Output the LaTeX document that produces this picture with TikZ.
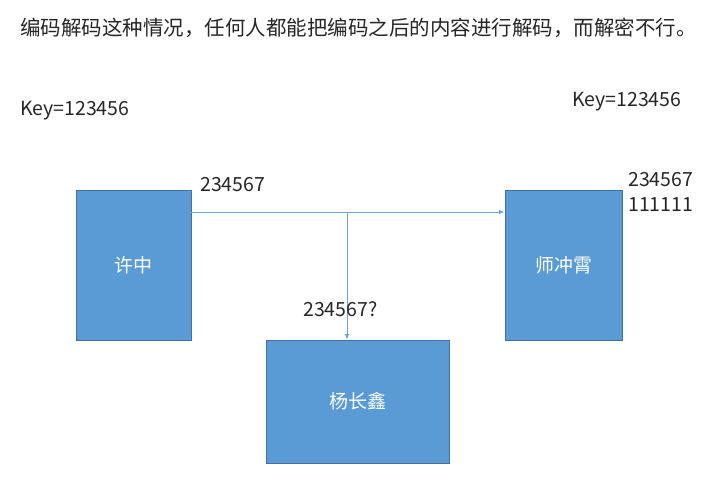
\documentclass[tikz,border=0pt]{standalone}
\usepackage{fontspec}
\setmainfont{Noto Sans CJK SC}
\usetikzlibrary{arrows.meta}
\definecolor{boxfill}{HTML}{5B9BD5}
\definecolor{boxline}{HTML}{41719C}
\definecolor{linkc}{HTML}{6FA3D8}
\definecolor{txt}{HTML}{262626}
\tikzset{
  personbox/.style={draw=boxline, fill=boxfill, line width=0.8pt, inner sep=0pt,
    text=white, font=\fontsize{19}{22}\selectfont},
  lbl/.style={anchor=west, inner sep=0pt, text=txt, font=\fontsize{19.5}{22}\selectfont},
  link/.style={draw=linkc, line width=1pt, -{Latex[length=5.5pt,width=4.5pt]}}
}
\begin{document}
\begin{tikzpicture}[x=1pt,y=-1pt]
\useasboundingbox (0,0) rectangle (723,480);
\node[lbl, font=\fontsize{20.5}{24}\selectfont] (title) at (20,28) {编码解码这种情况，任何人都能把编码之后的内容进行解码，而解密不行。};
\node[lbl] (keyl) at (20,111) {Key=123456};
\node[lbl] (keyr) at (572,102) {Key=123456};
\node[personbox, minimum width=115pt, minimum height=150pt] (b1) at (133.5,265) {许中};
\node[personbox, minimum width=117pt, minimum height=150pt] (b2) at (563.5,265) {师冲霄};
\node[personbox, minimum width=183pt, minimum height=123pt] (b3) at (357.5,401.5) {杨长鑫};
\coordinate (j) at (347,212);
\draw[link] (b1.east |- j) -- (b2.west |- j);
\draw[link] (j) -- (b3.north -| j);
\node[lbl] (m1) at (200,185) {234567};
\node[lbl] (m2) at (628,180) {234567};
\node[lbl] (m3) at (628,205) {111111};
\node[lbl] (m4) at (303,309) {234567?};
\end{tikzpicture}
\end{document}
